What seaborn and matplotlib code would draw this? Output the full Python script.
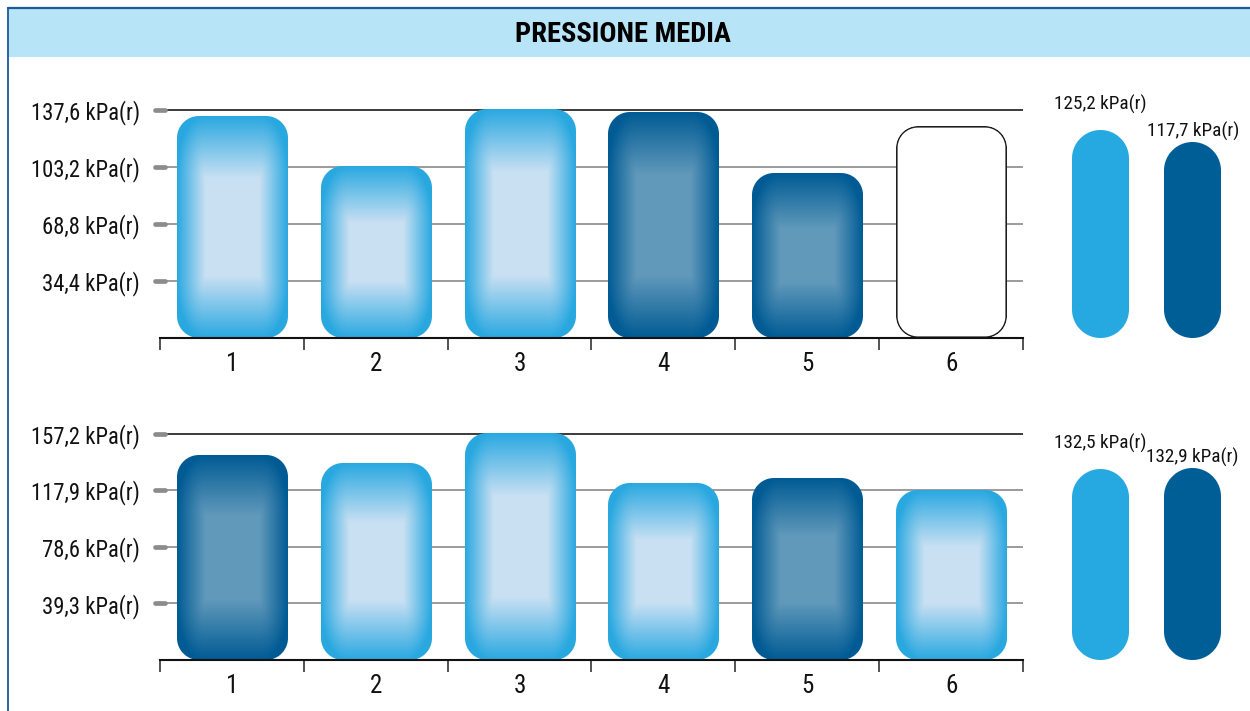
import numpy as np
import matplotlib
matplotlib.use("Agg")
import matplotlib.pyplot as plt
import seaborn as sns
from matplotlib import font_manager
from matplotlib.colors import to_rgb
from matplotlib.lines import Line2D
from matplotlib.patches import Rectangle
from matplotlib.transforms import blended_transform_factory

# ---------------------------------------------------------------- data
categories = ["1", "2", "3", "4", "5", "6"]

top_values = [133.4, 103.2, 137.6, 136.0, 99.0, 127.3]
top_kinds = ["light", "light", "light", "dark", "dark", "empty"]
top_ticks = [34.4, 68.8, 103.2, 137.6]
top_tick_labels = ["34,4 kPa(r)", "68,8 kPa(r)", "103,2 kPa(r)", "137,6 kPa(r)"]
top_summary = [125.2, 117.7]
top_summary_labels = ["125,2 kPa(r)", "117,7 kPa(r)"]

bottom_values = [142.1, 136.5, 157.2, 122.7, 126.1, 117.9]
bottom_kinds = ["dark", "light", "light", "light", "dark", "light"]
bottom_ticks = [39.3, 78.6, 117.9, 157.2]
bottom_tick_labels = ["39,3 kPa(r)", "78,6 kPa(r)", "117,9 kPa(r)", "157,2 kPa(r)"]
bottom_summary = [132.5, 132.9]
bottom_summary_labels = ["132,5 kPa(r)", "132,9 kPa(r)"]

summary_groups = ["chiaro", "scuro"]
summary_kinds = ["flat_light", "flat_dark"]
title = "PRESSIONE MEDIA"

# ---------------------------------------------------------------- style
W, H = 1250, 711
LIGHT_EDGE, LIGHT_CENTRE = "#29a8e0", "#c9e0f3"
DARK_EDGE, DARK_CENTRE = "#005b94", "#6199bb"
FLAT_LIGHT, FLAT_DARK = "#26a9e0", "#005e96"
FRAME = "#1d5a96"
BAND = "#b8e4f8"

sns.set_theme(style="white")


def pick_font(*names):
    for n in names:
        try:
            font_manager.findfont(font_manager.FontProperties(family=n),
                                  fallback_to_default=False)
            return n
        except Exception:
            continue
    return "DejaVu Sans"


COND = pick_font("Roboto Condensed", "Archivo Narrow", "PT Sans Narrow",
                 "IBM Plex Sans Condensed", "Liberation Sans Narrow", "Liberation Sans")
plt.rcParams["font.family"] = [COND, "DejaVu Sans"]


def px_rect(left, top, right, bottom):
    return [left / W, 1 - bottom / H, (right - left) / W, (bottom - top) / H]


def bar_image(wp, hp, radius, kind):
    """RGBA raster of a rounded bar with a soft box gradient."""
    ys, xs = np.mgrid[0:hp, 0:wp].astype(float) + 0.5
    hx, hy = wp / 2, hp / 2
    ax_, ay_ = np.abs(xs - hx), np.abs(ys - hy)
    r = min(radius, hx, hy)
    qx, qy = ax_ - (hx - r), ay_ - (hy - r)
    sd = (np.hypot(np.maximum(qx, 0), np.maximum(qy, 0))
          + np.minimum(np.maximum(qx, qy), 0) - r)
    alpha = np.clip(0.5 - sd, 0, 1)
    rgba = np.zeros((hp, wp, 4))
    if kind == "empty":
        ring = np.clip(1.3 - np.abs(sd + 0.8), 0, 1)
        col = np.array(to_rgb("#1e1e1e"))
        rgba[..., :3] = (1 - ring[..., None]) * 1.0 + ring[..., None] * col
    elif kind.startswith("flat"):
        rgba[..., :3] = to_rgb(FLAT_LIGHT if kind == "flat_light" else FLAT_DARK)
    else:
        edge = np.array(to_rgb(LIGHT_EDGE if kind == "light" else DARK_EDGE))
        centre = np.array(to_rgb(LIGHT_CENTRE if kind == "light" else DARK_CENTRE))
        ramp_x = 0.26 * wp
        ramp_y = 38 + 0.11 * hp
        dx = (hx - ax_) / ramp_x
        dy = (hy - ay_) / ramp_y
        a = np.clip(1 - dx, 0, 1)
        b = np.clip(1 - dy, 0, 1)
        s = np.clip((a ** 2.2 + b ** 2.2) ** (1 / 2.2), 0, 1)
        t = 1 - s
        rgba[..., :3] = edge + (centre - edge) * t[..., None]
    rgba[..., 3] = alpha
    return rgba


def restyle_bars(ax, kinds, radius):
    """Swap the plain seaborn rectangles for rounded gradient bars."""
    xlim, ylim = ax.get_xlim(), ax.get_ylim()
    for bar, kind in zip(list(ax.patches), kinds):
        x0, w, h = bar.get_x(), bar.get_width(), bar.get_height()
        bar.set_visible(False)
        p0 = ax.transData.transform((x0, 0))
        p1 = ax.transData.transform((x0 + w, h))
        wp, hp = int(round(p1[0] - p0[0])), int(round(p1[1] - p0[1]))
        rad = radius if radius is not None else wp / 2
        ax.imshow(bar_image(wp, hp, rad, kind), extent=(x0, x0 + w, 0, h),
                  origin="upper", aspect="auto", interpolation="nearest", zorder=3)
    ax.set_xlim(xlim)
    ax.set_ylim(ylim)


def main_panel(fig, rect, values, kinds, ticks, tick_labels):
    ax = fig.add_axes(rect)
    sns.barplot(x=categories, y=values, ax=ax, width=0.765, color=LIGHT_EDGE)
    ax.set_xlim(-0.5, len(categories) - 0.5)
    ax.set_ylim(0, ticks[-1] * 1.042)
    ax.set_xlabel("")
    ax.set_ylabel("")
    for side in ("top", "right", "left"):
        ax.spines[side].set_visible(False)
    ax.spines["bottom"].set_color("#111111")
    ax.spines["bottom"].set_linewidth(1.5)
    ax.spines["bottom"].set_zorder(4)

    span = rect[2] * W
    trans = blended_transform_factory(ax.transAxes, ax.transData)
    for i, t in enumerate(ticks):
        # grid line, starting right after the short grey marker
        ax.axhline(t, xmin=7 / span, xmax=1,
                   color="#1a1a1a" if i == len(ticks) - 1 else "#8a8a8a",
                   lw=1.2, zorder=1)
        ax.plot([-5 / span, 5 / span], [t, t], transform=trans, clip_on=False,
                color="#8c8c8c", lw=3.4, solid_capstyle="round", zorder=2)
    ax.set_yticks(ticks, tick_labels)
    ax.tick_params(axis="y", length=0, pad=14.4, labelsize=16.3, left=False)
    for lbl in ax.get_yticklabels():
        lbl.set_color("#111111")

    ax.set_xticks(range(len(categories)), categories)
    ax.set_xticks(np.arange(-0.5, len(categories)), minor=True)
    ax.tick_params(axis="x", which="major", length=0, pad=10, labelsize=18,
                   labelcolor="#111111")
    ax.tick_params(axis="x", which="minor", direction="out", length=8.6,
                   width=1.3, color="#444444", bottom=True)
    ax.set_facecolor("none")
    restyle_bars(ax, kinds, radius=22)
    return ax


def summary_panel(fig, rect, values, labels, ylim):
    ax = fig.add_axes(rect)
    sns.barplot(x=summary_groups, y=values, ax=ax, width=0.616, color=FLAT_LIGHT)
    ax.set_xlim(-0.5, 1.5)
    ax.set_ylim(ylim)
    ax.axis("off")
    restyle_bars(ax, summary_kinds, radius=None)
    offsets = [26, 11]
    for i, (v, lab) in enumerate(zip(values, labels)):
        ax.annotate(lab, (i, v), xytext=(0, offsets[i]), textcoords="offset pixels",
                    ha="center", va="center", fontsize=13.8, color="#111111")
    return ax


fig = plt.figure(figsize=(W / 100, H / 100), dpi=100)
fig.patch.set_facecolor("white")

# header band and frame
fig.add_artist(Rectangle((8 / W, 1 - 57 / H), 1 - 8 / W, 48 / H,
                         transform=fig.transFigure, facecolor=BAND,
                         edgecolor="none", zorder=0))
fig.add_artist(Line2D([7.5 / W, 1], [1 - 8 / H, 1 - 8 / H],
                      transform=fig.transFigure, color=FRAME, lw=1.6))
fig.add_artist(Line2D([7.5 / W, 7.5 / W], [1 - 8 / H, 0],
                      transform=fig.transFigure, color=FRAME, lw=1.3))
fig.text(623 / W, 1 - 34 / H, title, ha="center", va="center",
         fontsize=20.5, fontweight="bold", color="black")

ax_top = main_panel(fig, px_rect(160, 100, 1023, 338),
                    top_values, top_kinds, top_ticks, top_tick_labels)
summary_panel(fig, px_rect(1054, 100, 1239, 338),
              top_summary, top_summary_labels, ax_top.get_ylim())

ax_bot = main_panel(fig, px_rect(160, 424, 1023, 660),
                    bottom_values, bottom_kinds, bottom_ticks, bottom_tick_labels)
summary_panel(fig, px_rect(1054, 424, 1239, 660),
              bottom_summary, bottom_summary_labels, ax_bot.get_ylim())

fig.savefig("out.png", dpi=100, facecolor="white")
